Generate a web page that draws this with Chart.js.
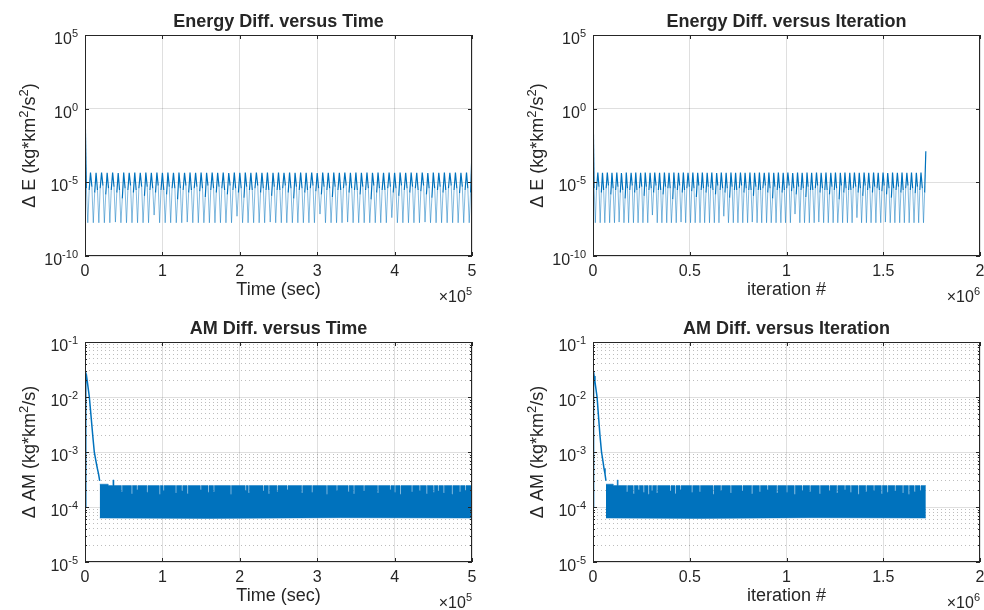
<!DOCTYPE html>
<html>
<head>
<meta charset="utf-8">
<script src="https://cdn.jsdelivr.net/npm/chart.js@4.4.1/dist/chart.umd.min.js"></script>
<style>
  html, body { margin: 0; padding: 0; background: #fff; }
  #wrap { position: relative; width: 984px; height: 610px; }
  #wrap canvas { position: absolute; }
</style>
</head>
<body>
<div id="wrap">
  <canvas id="c1" width="492" height="305" style="left:0;top:0"></canvas>
  <canvas id="c2" width="492" height="305" style="left:492px;top:0"></canvas>
  <canvas id="c3" width="492" height="305" style="left:0;top:305px"></canvas>
  <canvas id="c4" width="492" height="305" style="left:492px;top:305px"></canvas>
</div>
<script>
// === DATA ===
// ticks
const timeTicks = [0, 1, 2, 3, 4, 5];          // x 10^5 sec
const iterTicks = [0, 0.5, 1, 1.5, 2];         // x 10^6
const energyTickExps = [-10, -5, 0, 5];
const amTickExps = [-5, -4, -3, -2, -1];

// energy difference samples (time in 1e5 s, iteration in 1e6)
const energyTime = [
  0, 0.018, 0.036, 0.054, 0.071, 0.089, 0.107, 0.125, 0.143, 0.161, 0.179, 0.196, 0.214, 0.232, 0.25, 0.268, 0.286, 0.304, 0.321, 0.339, 0.357, 0.375, 0.393, 0.411, 0.429, 0.446, 0.464, 0.482,
  0.5, 0.518, 0.536, 0.554, 0.571, 0.589, 0.607, 0.625, 0.643, 0.661, 0.679, 0.696, 0.714, 0.732, 0.75, 0.768, 0.786, 0.804, 0.821, 0.839, 0.857, 0.875, 0.893, 0.911, 0.929, 0.946, 0.964, 0.982,
  1, 1.018, 1.036, 1.054, 1.071, 1.089, 1.107, 1.125, 1.143, 1.161, 1.179, 1.196, 1.214, 1.232, 1.25, 1.268, 1.286, 1.304, 1.321, 1.339, 1.357, 1.375, 1.393, 1.411, 1.429, 1.446, 1.464, 1.482,
  1.5, 1.518, 1.536, 1.554, 1.571, 1.589, 1.607, 1.625, 1.643, 1.661, 1.679, 1.696, 1.714, 1.732, 1.75, 1.768, 1.786, 1.804, 1.821, 1.839, 1.857, 1.875, 1.893, 1.911, 1.929, 1.946, 1.964, 1.982,
  2, 2.018, 2.036, 2.054, 2.071, 2.089, 2.107, 2.125, 2.143, 2.161, 2.179, 2.196, 2.214, 2.232, 2.25, 2.268, 2.286, 2.304, 2.321, 2.339, 2.357, 2.375, 2.393, 2.411, 2.429, 2.446, 2.464, 2.482,
  2.5, 2.518, 2.536, 2.554, 2.571, 2.589, 2.607, 2.625, 2.643, 2.661, 2.679, 2.696, 2.714, 2.732, 2.75, 2.768, 2.786, 2.804, 2.821, 2.839, 2.857, 2.875, 2.893, 2.911, 2.929, 2.946, 2.964, 2.982,
  3, 3.018, 3.036, 3.054, 3.071, 3.089, 3.107, 3.125, 3.143, 3.161, 3.179, 3.196, 3.214, 3.232, 3.25, 3.268, 3.286, 3.304, 3.321, 3.339, 3.357, 3.375, 3.393, 3.411, 3.429, 3.446, 3.464, 3.482,
  3.5, 3.518, 3.536, 3.554, 3.571, 3.589, 3.607, 3.625, 3.643, 3.661, 3.679, 3.696, 3.714, 3.732, 3.75, 3.768, 3.786, 3.804, 3.821, 3.839, 3.857, 3.875, 3.893, 3.911, 3.929, 3.946, 3.964, 3.982,
  4, 4.018, 4.036, 4.054, 4.071, 4.089, 4.107, 4.125, 4.143, 4.161, 4.179, 4.196, 4.214, 4.232, 4.25, 4.268, 4.286, 4.304, 4.321, 4.339, 4.357, 4.375, 4.393, 4.411, 4.429, 4.446, 4.464, 4.482,
  4.5, 4.518, 4.536, 4.554, 4.571, 4.589, 4.607, 4.625, 4.643, 4.661, 4.679, 4.696, 4.714, 4.732, 4.75, 4.768, 4.786, 4.804, 4.821, 4.839, 4.857, 4.875, 4.893, 4.911, 4.929, 4.946, 4.964, 4.982,
  5
];
const energyIter = [
  0, 0.006, 0.012, 0.018, 0.025, 0.031, 0.037, 0.043, 0.049, 0.055, 0.061, 0.068, 0.074, 0.08, 0.086, 0.092, 0.098, 0.104, 0.111, 0.117, 0.123, 0.129, 0.135, 0.141, 0.147, 0.154, 0.16, 0.166,
  0.172, 0.178, 0.184, 0.19, 0.197, 0.203, 0.209, 0.215, 0.221, 0.227, 0.233, 0.24, 0.246, 0.252, 0.258, 0.264, 0.27, 0.276, 0.283, 0.289, 0.295, 0.301, 0.307, 0.313, 0.319, 0.326, 0.332, 0.338,
  0.344, 0.35, 0.356, 0.362, 0.369, 0.375, 0.381, 0.387, 0.393, 0.399, 0.405, 0.412, 0.418, 0.424, 0.43, 0.436, 0.442, 0.448, 0.455, 0.461, 0.467, 0.473, 0.479, 0.485, 0.491, 0.498, 0.504, 0.51,
  0.516, 0.522, 0.528, 0.534, 0.541, 0.547, 0.553, 0.559, 0.565, 0.571, 0.577, 0.584, 0.59, 0.596, 0.602, 0.608, 0.614, 0.62, 0.627, 0.633, 0.639, 0.645, 0.651, 0.657, 0.663, 0.67, 0.676, 0.682,
  0.688, 0.694, 0.7, 0.706, 0.713, 0.719, 0.725, 0.731, 0.737, 0.743, 0.749, 0.756, 0.762, 0.768, 0.774, 0.78, 0.786, 0.792, 0.799, 0.805, 0.811, 0.817, 0.823, 0.829, 0.835, 0.842, 0.848, 0.854,
  0.86, 0.866, 0.872, 0.878, 0.885, 0.891, 0.897, 0.903, 0.909, 0.915, 0.921, 0.928, 0.934, 0.94, 0.946, 0.952, 0.958, 0.964, 0.971, 0.977, 0.983, 0.989, 0.995, 1.001, 1.007, 1.014, 1.02, 1.026,
  1.032, 1.038, 1.044, 1.05, 1.057, 1.063, 1.069, 1.075, 1.081, 1.087, 1.093, 1.1, 1.106, 1.112, 1.118, 1.124, 1.13, 1.136, 1.143, 1.149, 1.155, 1.161, 1.167, 1.173, 1.179, 1.186, 1.192, 1.198,
  1.204, 1.21, 1.216, 1.222, 1.229, 1.235, 1.241, 1.247, 1.253, 1.259, 1.265, 1.272, 1.278, 1.284, 1.29, 1.296, 1.302, 1.308, 1.315, 1.321, 1.327, 1.333, 1.339, 1.345, 1.351, 1.358, 1.364, 1.37,
  1.376, 1.382, 1.388, 1.394, 1.401, 1.407, 1.413, 1.419, 1.425, 1.431, 1.437, 1.444, 1.45, 1.456, 1.462, 1.468, 1.474, 1.48, 1.487, 1.493, 1.499, 1.505, 1.511, 1.517, 1.523, 1.53, 1.536, 1.542,
  1.548, 1.554, 1.56, 1.566, 1.573, 1.579, 1.585, 1.591, 1.597, 1.603, 1.609, 1.616, 1.622, 1.628, 1.634, 1.64, 1.646, 1.652, 1.659, 1.665, 1.671, 1.677, 1.683, 1.689, 1.695, 1.702, 1.708, 1.714,
  1.72
];
// per cycle: crest, shoulder, trough, shoulder
const energyDiff = [
  2.5, 4e-6, 1.8e-8, 3e-6,
  4.6e-5, 5e-6, 1.8e-8, 2e-6, 4.4e-5, 3e-6, 1.8e-8, 4e-6, 4.6e-5, 6e-6, 1.8e-8, 1.5e-6,
  4.5e-5, 4e-6, 1.8e-8, 3e-6, 4.6e-5, 5e-6, 2e-8, 2e-6, 4.3e-5, 3e-6, 1.8e-8, 8e-7,
  4.6e-5, 4e-6, 1.8e-8, 3e-6, 4.5e-5, 6e-6, 1.8e-8, 2e-6, 4.6e-5, 3e-6, 1.8e-8, 4e-6,
  4.4e-5, 5e-6, 1.8e-8, 1.2e-6, 4.6e-5, 5e-6, 1.8e-8, 3e-6, 4.5e-5, 4e-6, 6e-8, 2e-6,
  4.6e-5, 6e-6, 1.8e-8, 3e-6, 4.4e-5, 3e-6, 1.8e-8, 1.5e-6, 4.6e-5, 5e-6, 1.8e-8, 4e-6,
  4.5e-5, 4e-6, 1.8e-8, 7e-7, 4.6e-5, 4e-6, 1.8e-8, 3e-6, 4.4e-5, 6e-6, 2e-8, 2e-6,
  4.6e-5, 3e-6, 1.8e-8, 4e-6, 4.5e-5, 5e-6, 1.8e-8, 2.5e-6, 4.6e-5, 4e-6, 1.8e-8, 1e-6,
  4.4e-5, 6e-6, 1.8e-8, 3e-6, 4.6e-5, 4e-6, 1.8e-8, 2e-6, 4.5e-5, 5e-6, 1.8e-8, 4e-6,
  4.6e-5, 3e-6, 1.8e-8, 1.5e-6, 4.3e-5, 6e-6, 1.8e-8, 3e-6, 4.6e-5, 4e-6, 5e-8, 2e-6,
  4.5e-5, 4e-6, 1.8e-8, 9e-7, 4.6e-5, 5e-6, 1.8e-8, 3e-6, 4.4e-5, 3e-6, 1.8e-8, 4e-6,
  4.6e-5, 6e-6, 1.8e-8, 2e-6, 4.5e-5, 4e-6, 1.8e-8, 3e-6, 4.6e-5, 3e-6, 2e-8, 1.2e-6,
  4.4e-5, 5e-6, 1.8e-8, 3e-6, 4.6e-5, 3e-6, 1.8e-8, 4e-6, 4.5e-5, 6e-6, 1.8e-8, 2e-6,
  4.6e-5, 4e-6, 1.8e-8, 8e-7, 4.4e-5, 5e-6, 1.8e-8, 3e-6, 4.6e-5, 4e-6, 1.8e-8, 2e-6,
  4.5e-5, 3e-6, 1.8e-8, 4e-6, 4.6e-5, 6e-6, 1.8e-8, 2.5e-6, 4.3e-5, 4e-6, 7e-8, 1.5e-6,
  4.6e-5, 5e-6, 1.8e-8, 3e-6, 4.5e-5, 4e-6, 1.8e-8, 1e-6, 4.6e-5, 5e-6, 1.8e-8, 3e-6,
  4.4e-5, 3e-6, 1.8e-8, 4e-6, 4.6e-5, 6e-6, 2e-8, 2e-6, 4.5e-5, 4e-6, 1.8e-8, 3e-6,
  4.6e-5, 3e-6, 1.8e-8, 1.5e-6, 4.4e-5, 5e-6, 1.8e-8, 3e-6, 4.6e-5, 4e-6, 1.8e-8, 7e-7,
  4.5e-5, 6e-6, 1.8e-8, 2e-6, 4.6e-5, 4e-6, 1.8e-8, 3e-6, 4.4e-5, 3e-6, 1.8e-8, 4e-6,
  4.6e-5, 5e-6, 4e-8, 2e-6, 4.5e-5, 4e-6, 1.8e-8, 1.2e-6, 4.6e-5, 6e-6, 1.8e-8, 3e-6,
  4.4e-5, 4e-6, 1.8e-8, 2e-6, 4.6e-5, 5e-6, 1.8e-8, 4e-6, 4.5e-5, 3e-6, 1.8e-8, 2.5e-6,
  4.6e-5, 6e-6, 2e-8, 1.5e-6, 4.3e-5, 4e-6, 1.8e-8, 9e-7, 4.6e-5, 4e-6, 1.8e-8, 3e-6,
  4.5e-5, 5e-6, 1.8e-8, 2e-6, 4.6e-5, 3e-6, 1.8e-8, 4e-6, 4.4e-5, 6e-6, 1.8e-8, 3e-6,
  4.6e-5, 4e-6, 1.8e-8, 1.8e-6, 4.5e-5, 5e-6, 1.8e-8, 3e-6, 4.6e-5, 4e-6, 1.8e-8, 2e-6,
  1.3e-3
];

// angular momentum difference: initial decay
const amDecayTime = [0, 0.01, 0.02, 0.03, 0.056, 0.08, 0.1, 0.12, 0.14, 0.16, 0.175, 0.19];
const amDecayIter = [0, 0.003, 0.006, 0.01, 0.021, 0.029, 0.036, 0.044, 0.051, 0.057, 0.062, 0.067];
const amDecay = [1e-4, 2e-2, 2.4e-2, 1.9e-2, 1e-2, 4.2e-3, 2e-3, 1e-3, 7e-4, 5e-4, 4e-4, 3e-4];

// angular momentum difference: upper edge of the noise band
const amBandTop = [
  2.6e-4, 2.45e-4, 3.1e-4, 2.45e-4,
  1.9e-4, 2.45e-4, 1.75e-4, 2.45e-4, 2.05e-4, 2.45e-4, 1.85e-4, 2.45e-4, 1.7e-4, 2.45e-4,
  2e-4, 2.45e-4, 1.8e-4, 2.45e-4, 1.95e-4, 2.45e-4, 1.75e-4, 2.45e-4, 2.05e-4, 2.45e-4,
  1.85e-4, 2.45e-4, 1.9e-4, 2.45e-4, 1.7e-4, 2.45e-4, 2e-4, 2.45e-4, 1.8e-4, 2.45e-4,
  1.95e-4, 2.45e-4, 1.75e-4, 2.45e-4, 1.9e-4, 2.45e-4, 2.05e-4, 2.45e-4, 1.8e-4, 2.45e-4,
  1.85e-4, 2.45e-4, 1.7e-4, 2.45e-4, 2e-4, 2.45e-4, 1.9e-4, 2.45e-4, 1.75e-4, 2.45e-4,
  1.95e-4, 2.45e-4, 1.8e-4, 2.45e-4, 2.05e-4, 2.45e-4, 1.85e-4, 2.45e-4, 1.7e-4, 2.45e-4,
  1.9e-4, 2.45e-4, 2e-4, 2.45e-4, 1.75e-4, 2.45e-4, 1.85e-4, 2.45e-4, 1.95e-4, 2.45e-4,
  1.8e-4, 2.45e-4, 1.7e-4, 2.45e-4, 1.9e-4, 2.45e-4, 2e-4, 2.45e-4,
  2.45e-4
];
const amBandTopTime = [
  0.19, 0.3, 0.36, 0.375,
  0.47, 0.482, 0.6, 0.612, 0.67, 0.682, 0.8, 0.812, 0.96, 0.972,
  1.01, 1.022, 1.17, 1.182, 1.25, 1.262, 1.32, 1.332, 1.49, 1.502,
  1.59, 1.602, 1.66, 1.672, 1.88, 1.892, 2.07, 2.082, 2.11, 2.122,
  2.3, 2.312, 2.37, 2.382, 2.48, 2.492, 2.61, 2.622, 2.8, 2.812,
  2.93, 2.942, 3.12, 3.132, 3.25, 3.262, 3.4, 3.412, 3.47, 3.482,
  3.6, 3.612, 3.78, 3.792, 3.94, 3.952, 4, 4.012, 4.07, 4.082,
  4.22, 4.232, 4.32, 4.332, 4.41, 4.422, 4.5, 4.512, 4.56, 4.572,
  4.63, 4.642, 4.74, 4.752, 4.84, 4.852, 4.91, 4.922,
  5
];
const amBandTopIter = [
  0.067, 0.105, 0.125, 0.13,
  0.174, 0.179, 0.208, 0.213, 0.234, 0.239, 0.26, 0.265, 0.285, 0.29,
  0.303, 0.308, 0.329, 0.334, 0.398, 0.403, 0.424, 0.429, 0.45, 0.455,
  0.51, 0.515, 0.55, 0.555, 0.62, 0.625, 0.66, 0.665, 0.71, 0.715,
  0.77, 0.775, 0.82, 0.825, 0.86, 0.865, 0.9, 0.905, 0.95, 0.955,
  1, 1.005, 1.04, 1.045, 1.08, 1.085, 1.12, 1.125, 1.17, 1.175,
  1.22, 1.225, 1.26, 1.265, 1.3, 1.305, 1.33, 1.335, 1.37, 1.375,
  1.41, 1.415, 1.45, 1.455, 1.49, 1.495, 1.52, 1.525, 1.56, 1.565,
  1.6, 1.605, 1.63, 1.635, 1.66, 1.665, 1.69, 1.695,
  1.72
];
// lower edge of the noise band
const amBandBottom = [6.3e-5, 6.2e-5, 6.4e-5, 6.3e-5];
const amBandBottomTime = [0.19, 1.6, 3.3, 5];
const amBandBottomIter = [0.067, 0.55, 1.13, 1.72];

// === STYLE ===
const FAMILY = "'Liberation Sans', Arial, Helvetica, sans-serif";
const TEXT = '#262626';
const BLUE = '#0072bd';
const BLUE_LIGHT = 'rgba(0,114,189,0.55)';
const GRID = 'rgba(38,38,38,0.15)';
const MINOR_GRID = 'rgba(38,38,38,0.3)';
const TICK_FONT = 16, TICK_SUP = 11, LABEL_FONT = 18, LABEL_SUP = 13, TITLE_FONT = 18;

Chart.defaults.elements.point.radius = 0;
Chart.defaults.elements.line.tension = 0;

const pts = (xs, ys) => xs.map((x, i) => ({ x: x, y: ys[i] }));
const decades = exps => exps.map(e => Math.pow(10, e));
const minorsOf = exps => {
  const out = [];
  for (let i = 0; i < exps.length - 1; i++)
    for (let m = 2; m <= 9; m++) out.push(m * Math.pow(10, exps[i]));
  return out;
};

// text with superscripts: parts = [[text, isSup], ...]
function richText(ctx, parts, x, y, align, size, supSize, raise) {
  const fontOf = sup => (sup ? supSize : size) + 'px ' + FAMILY;
  let w = 0;
  parts.forEach(([t, sup]) => { ctx.font = fontOf(sup); w += ctx.measureText(t).width; });
  let cx = align === 'right' ? x - w : align === 'center' ? x - w / 2 : x;
  ctx.textAlign = 'left';
  ctx.textBaseline = 'alphabetic';
  parts.forEach(([t, sup]) => {
    ctx.font = fontOf(sup);
    ctx.fillText(t, cx, sup ? y - raise : y);
    cx += ctx.measureText(t).width;
  });
}

function drawDecor(chart, cfg) {
  const ctx = chart.ctx, a = chart.chartArea;
  const xs = chart.scales.x, ys = chart.scales.y;
  const majors = decades(cfg.yExps);
  ctx.save();
  ctx.strokeStyle = TEXT;
  ctx.lineWidth = 1;
  ctx.beginPath();
  cfg.xTicks.forEach(v => {
    const px = Math.round(xs.getPixelForValue(v)) + 0.5;
    ctx.moveTo(px, a.bottom); ctx.lineTo(px, a.bottom - 4);
    ctx.moveTo(px, a.top); ctx.lineTo(px, a.top + 4);
  });
  majors.forEach(v => {
    const py = Math.round(ys.getPixelForValue(v)) + 0.5;
    ctx.moveTo(a.left, py); ctx.lineTo(a.left + 4, py);
    ctx.moveTo(a.right, py); ctx.lineTo(a.right - 4, py);
  });
  if (cfg.minor) {
    minorsOf(cfg.yExps).forEach(v => {
      const py = Math.round(ys.getPixelForValue(v)) + 0.5;
      ctx.moveTo(a.left, py); ctx.lineTo(a.left + 2, py);
      ctx.moveTo(a.right, py); ctx.lineTo(a.right - 2, py);
    });
  }
  ctx.stroke();
  ctx.strokeRect(a.left + 0.5, a.top + 0.5, a.right - a.left - 1, a.bottom - a.top - 1);

  ctx.fillStyle = TEXT;
  // x tick labels
  ctx.font = TICK_FONT + 'px ' + FAMILY;
  ctx.textAlign = 'center';
  ctx.textBaseline = 'alphabetic';
  cfg.xTicks.forEach(v => ctx.fillText(String(v), xs.getPixelForValue(v), a.bottom + 20));
  // y tick labels
  cfg.yExps.forEach(e => {
    const py = ys.getPixelForValue(Math.pow(10, e));
    richText(ctx, [['10', false], [String(e), true]], a.left - 7, py + 9, 'right', TICK_FONT, TICK_SUP, 7);
  });
  // x exponent
  richText(ctx, [['\u00d710', false], [String(cfg.xExp), true]], a.right, a.bottom + 46, 'right', TICK_FONT, TICK_SUP, 7);
  // title
  ctx.font = 'bold ' + TITLE_FONT + 'px ' + FAMILY;
  ctx.textAlign = 'center';
  ctx.fillText(cfg.title, (a.left + a.right) / 2, a.top - 8);
  // x label
  ctx.font = LABEL_FONT + 'px ' + FAMILY;
  ctx.fillText(cfg.xLabel, (a.left + a.right) / 2, a.bottom + 39);
  // y label
  ctx.save();
  ctx.translate(a.left - 50, (a.top + a.bottom) / 2);
  ctx.rotate(-Math.PI / 2);
  richText(ctx, cfg.yLabel, 0, 0, 'center', LABEL_FONT, LABEL_SUP, 7);
  ctx.restore();
  ctx.restore();
}

function makeChart(id, pad, cfg, datasets) {
  const majors = decades(cfg.yExps);
  const scales = {
    x: {
      type: 'linear', min: 0, max: cfg.xTicks[cfg.xTicks.length - 1],
      afterBuildTicks: s => { s.ticks = cfg.xTicks.map(v => ({ value: v })); },
      ticks: { display: false },
      grid: { color: GRID, drawTicks: false },
      border: { display: false }
    },
    y: {
      type: 'logarithmic', min: majors[0], max: majors[majors.length - 1],
      afterBuildTicks: s => { s.ticks = majors.map(v => ({ value: v, major: true })); },
      ticks: { display: false },
      grid: { color: GRID, drawTicks: false },
      border: { display: false }
    }
  };
  if (cfg.minor) {
    scales.yMinor = {
      axis: 'y', type: 'logarithmic', position: 'left',
      min: majors[0], max: majors[majors.length - 1],
      afterBuildTicks: s => { s.ticks = minorsOf(cfg.yExps).map(v => ({ value: v })); },
      ticks: { display: false },
      grid: { color: MINOR_GRID, drawTicks: false },
      border: { display: false, dash: [1, 3] }
    };
  }
  return new Chart(document.getElementById(id), {
    type: 'line',
    data: { datasets: datasets },
    options: {
      responsive: false,
      animation: false,
      devicePixelRatio: 1,
      events: [],
      layout: { padding: pad },
      scales: scales,
      plugins: { legend: { display: false }, tooltip: { enabled: false } }
    },
    plugins: [{ id: 'decor', afterDraw: chart => drawDecor(chart, cfg) }]
  });
}

const energyLabel = [['\u0394 E (kg*km', false], ['2', true], ['/s', false], ['2', true], [')', false]];
const amLabel = [['\u0394 AM (kg*km', false], ['2', true], ['/s)', false]];

// segments reaching down into the troughs are drawn thinner and lighter
const deep = c => Math.min(c.p0.parsed.y, c.p1.parsed.y) < 1e-7;
const lineSet = data => ({
  data: data, borderColor: BLUE, borderWidth: 1.2, fill: false,
  segment: {
    borderColor: c => deep(c) ? BLUE_LIGHT : BLUE,
    borderWidth: c => deep(c) ? 0.9 : 1.2
  }
});
const bandSets = (decay, top, bottom) => [
  { data: decay, borderColor: BLUE, borderWidth: 1.5, fill: false },
  { data: top, borderColor: BLUE, borderWidth: 0.5, backgroundColor: BLUE, stepped: true, fill: '+1' },
  { data: bottom, borderColor: BLUE, borderWidth: 0.5, fill: false }
];

makeChart('c1', { left: 85, top: 35, right: 20, bottom: 49 },
  { title: 'Energy Diff. versus Time', xLabel: 'Time (sec)', yLabel: energyLabel,
    xTicks: timeTicks, xExp: 5, yExps: energyTickExps, minor: false },
  [lineSet(pts(energyTime, energyDiff))]);

makeChart('c2', { left: 101, top: 35, right: 4, bottom: 49 },
  { title: 'Energy Diff. versus Iteration', xLabel: 'iteration #', yLabel: energyLabel,
    xTicks: iterTicks, xExp: 6, yExps: energyTickExps, minor: false },
  [lineSet(pts(energyIter, energyDiff))]);

makeChart('c3', { left: 85, top: 37, right: 20, bottom: 48 },
  { title: 'AM Diff. versus Time', xLabel: 'Time (sec)', yLabel: amLabel,
    xTicks: timeTicks, xExp: 5, yExps: amTickExps, minor: true },
  bandSets(pts(amDecayTime, amDecay), pts(amBandTopTime, amBandTop), pts(amBandBottomTime, amBandBottom)));

makeChart('c4', { left: 101, top: 37, right: 4, bottom: 48 },
  { title: 'AM Diff. versus Iteration', xLabel: 'iteration #', yLabel: amLabel,
    xTicks: iterTicks, xExp: 6, yExps: amTickExps, minor: true },
  bandSets(pts(amDecayIter, amDecay), pts(amBandTopIter, amBandTop), pts(amBandBottomIter, amBandBottom)));
</script>
</body>
</html>
